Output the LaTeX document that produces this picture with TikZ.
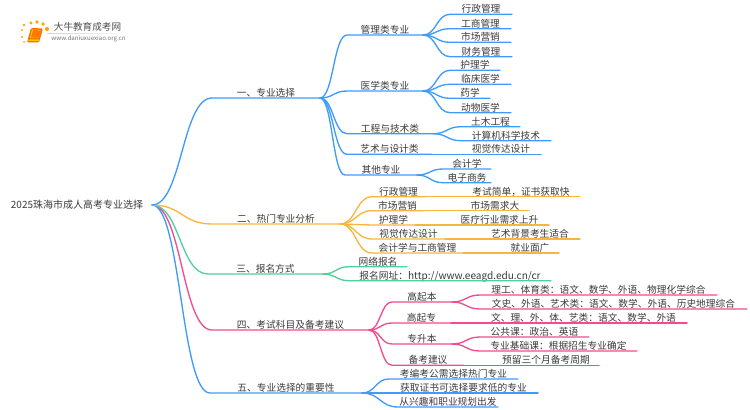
\documentclass[tikz,border=0pt]{standalone}
\usepackage{fontspec}
\setmainfont{Noto Sans CJK SC}
\usetikzlibrary{calc,fadings}
\definecolor{cblue}{HTML}{3F9BFA}
\definecolor{corange}{HTML}{F8B63F}
\definecolor{cgreen}{HTML}{4FD09B}
\definecolor{cpink}{HTML}{F24C8E}
\definecolor{ctext}{HTML}{3A3A3A}
\tikzset{
  tn/.style={anchor=south,inner sep=0pt,outer sep=0pt,text=ctext,
    font=\fontsize{7.3pt}{8pt}\selectfont,minimum height=10.5*0.75pt,text height=6.6pt,text depth=1pt},
  wire/.style={line width=1pt,line cap=round},
}
% name, x0, x1, y, text
\newcommand\tnode[5]{\node[tn,minimum width={(#3-#2)*0.75pt}] (#1) at ({(#2+#3)/2},#4) {#5};}
% colour, from, to : curve then underline of the target
\newcommand\clink[3]{\draw[wire,#1] let \p1=(#2.south east),\p2=(#3.south west),\n1={(\x1+\x2)/2} in
  (\p1) .. controls (\n1,\y1) and (\n1,\y2) .. (\p2) -- (#3.south east);}
\newcommand\rlink[2]{\draw[wire,#1] let \p1=(root.east),\p2=(#2.south west),\n1={(\x1+\x2)/2} in
  (\p1) .. controls (\n1,\y1) and (\n1,\y2) .. (\p2) -- (#2.south east);}
\newcommand\slink[3]{\draw[wire,#1] (#2.south east) -- (#3.south west) -- (#3.south east);}
\begin{document}
\begin{tikzpicture}[x=0.75pt,y=-0.75pt]
\useasboundingbox (0,0) rectangle (750,410);
% logo
\foreach \px/\py/\pr in {24/25/1.4,31/23/1.7,37/22/1.8,43/24/1.9,47/29/2.1,22/30/1.2,22/37/1.1,24/42/1}
  \fill[orange!70!yellow] (\px,\py) circle[radius=\pr];
\fill[orange!85!red,rounded corners=1pt] (31,28) -- (43,28.5) -- (39,42.5) -- (27,42.5) -- cycle;
\fill[yellow!60!orange] (28.5,39.3) -- (39.5,39.3) -- (38.8,41) -- (28.2,41) -- cycle;
\fill[yellow!70!orange] (32,29.5) -- (41,30) -- (38.5,38) -- (30,38) -- cycle;
\fill[orange!95!red] (33,30) -- (41,30.5) -- (38.6,37.6) -- (31,37.6) -- cycle;
\fill[gray!35,path fading=east] (47,32.8) rectangle (133,33.3);
\node[anchor=center,inner sep=0pt,text=black!70,font=\fontsize{7.2pt}{8pt}\selectfont] (logot) at (87.5,27) {大牛教育成考网};
\node[anchor=center,inner sep=0pt,text=black!55,font=\fontsize{4.6pt}{5pt}\selectfont] (logou) at (88.5,38.5) {www.daniuxuexiao.org.cn};
% root
\node[inner sep=0pt,outer sep=0pt,text=ctext,font=\fontsize{7.5pt}{9pt}\selectfont,minimum width={150*0.75pt},anchor=center] (root) at (77,205) {2025珠海市成人高考专业选择};
% level 1
\tnode{b1}{212}{320}{98}{一、专业选择}
\tnode{b2}{212}{340}{224}{二、热门专业分析}
\tnode{b3}{208}{323}{274}{三、报名方式}
\tnode{b4}{212}{369}{330}{四、考试科目及备考建议}
\tnode{b5}{210}{362}{393}{五、专业选择的重要性}
% branch 1
\tnode{m1}{347}{423}{35}{管理类专业}
\tnode{m2}{347}{423}{91}{医学类专业}
\tnode{m3}{347}{433}{133.7}{工程与技术类}
\tnode{m4}{347}{432}{154.3}{艺术与设计类}
\tnode{m5}{345}{417}{175}{其他专业}
\tnode{a1}{450}{512}{14.3}{行政管理}
\tnode{a2}{450}{511}{28.7}{工商管理}
\tnode{a3}{450}{511}{42.3}{市场营销}
\tnode{a4}{450}{512}{56.7}{财务管理}
\tnode{a5}{450}{500}{70.3}{护理学}
\tnode{a6}{450}{511}{84.3}{临床医学}
\tnode{a7}{450}{490}{98.3}{药学}
\tnode{a8}{450}{511}{112.7}{动物医学}
\tnode{a9}{461}{520}{126.7}{土木工程}
\tnode{a10}{461}{551}{140.7}{计算机科学技术}
\tnode{a11}{461}{541}{154.3}{视觉传达设计}
\tnode{a12}{443}{491}{169}{会计学}
\tnode{a13}{443}{491}{182.7}{电子商务}
% branch 2
\tnode{c1}{372}{425}{196.7}{行政管理}
\tnode{c2}{372}{423}{210.7}{市场营销}
\tnode{c3}{372}{415}{225}{护理学}
\tnode{c4}{372}{445}{239}{视觉传达设计}
\tnode{c5}{372}{463}{253}{会计学与工商管理}
\tnode{d1}{462}{580}{196.7}{考试简单，证书获取快}
\tnode{d2}{461}{529}{210.7}{市场需求大}
\tnode{d3}{450}{549}{225}{医疗行业需求上升}
\tnode{d4}{480}{580}{239}{艺术背景考生适合}
\tnode{d5}{501}{559}{253}{就业面广}
% branch 3
\tnode{e1}{349}{407}{266.7}{网络报名}
\tnode{e2}{349}{551}{280.7}{报名网址：{\fontsize{7.55pt}{8pt}\selectfont http://www.eeagd.edu.cn/cr}}
% branch 4
\tnode{f1}{392}{452}{302}{高起本}
\tnode{f2}{392}{451}{323}{高起专}
\tnode{f3}{392}{452}{344}{专升本}
\tnode{f4}{392}{464}{365.3}{备考建议}
\tnode{g1}{480}{717}{295}{理工、体育类：语文、数学、外语、物理化学综合}
\tnode{g2}{480}{747}{309}{文史、外语、艺术类：语文、数学、外语、历史地理综合}
\tnode{g3}{480}{687}{323}{文、理、外、体、艺类：语文、数学、外语}
\tnode{g4}{480}{589}{337}{公共课：政治、英语}
\tnode{g5}{480}{637}{351}{专业基础课：根据招生专业确定}
\tnode{g6}{493}{599}{365.3}{预留三个月备考周期}
% branch 5
\tnode{h1}{389}{518}{379}{考编考公需选择热门专业}
\tnode{h2}{389}{538}{393}{获取证书可选择要求低的专业}
\tnode{h3}{398}{498}{407}{从兴趣和职业规划出发}
% connectors
\rlink{cblue}{b5}
\rlink{cpink}{b4}
\rlink{cgreen}{b3}
\rlink{corange}{b2}
\rlink{cblue}{b1}
\foreach \t in {m1,m2,m3,m4,m5} {\clink{cblue}{b1}{\t}}
\foreach \t in {a1,a2,a3,a4} {\clink{cblue}{m1}{\t}}
\foreach \t in {a5,a6,a7,a8} {\clink{cblue}{m2}{\t}}
\foreach \t in {a9,a10} {\clink{cblue}{m3}{\t}}
\slink{cblue}{m4}{a11}
\foreach \t in {a12,a13} {\clink{cblue}{m5}{\t}}
\foreach \t in {c1,c2,c3,c4,c5} {\clink{corange}{b2}{\t}}
\slink{corange}{c1}{d1}
\slink{corange}{c2}{d2}
\slink{corange}{c3}{d3}
\slink{corange}{c4}{d4}
\slink{corange}{c5}{d5}
\foreach \t in {e1,e2} {\clink{cgreen}{b3}{\t}}
\foreach \t in {f1,f2,f3,f4} {\clink{cpink}{b4}{\t}}
\foreach \t in {g1,g2} {\clink{cpink}{f1}{\t}}
\slink{cpink}{f2}{g3}
\foreach \t in {g4,g5} {\clink{cpink}{f3}{\t}}
\slink{cpink}{f4}{g6}
\foreach \t in {h1,h2,h3} {\clink{cblue}{b5}{\t}}
\end{tikzpicture}
\end{document}
